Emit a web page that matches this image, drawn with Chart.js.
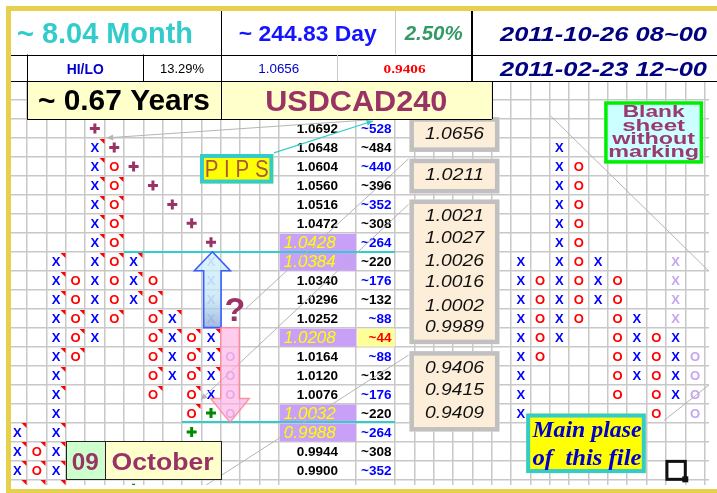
<!DOCTYPE html>
<html>
<head>
<meta charset="utf-8">
<script src="https://cdn.jsdelivr.net/npm/chart.js@4.4.1/dist/chart.umd.min.js"></script>
<style>
html,body{margin:0;padding:0;background:#fff;overflow:hidden;}
canvas{display:block;}
</style>
</head>
<body>
<canvas id="pf" width="717" height="493"></canvas>
<script>
// ================= DATA =================
const symbolName = 'USDCAD240';
const spanMonths = '~ 8.04 Month';
const spanDays = '~ 244.83 Day';
const spanYears = '~ 0.67 Years';
const boxPercent = '2.50%';
const hiLoLabel = 'HI/LO';
const hiLoPercent = '13.29%';
const hiPrice = '1.0656';
const loPrice = '0.9406';
const dateEnd = '2011-10-26 08~00';
const dateStart = '2011-02-23 12~00';
const monthNum = '09';
const monthName = 'October';

// price ladder (row 0 = top row), box size 0.0044
const priceLabels = ['1.0692','1.0648','1.0604','1.0560','1.0516','1.0472','1.0428','1.0384','1.0340','1.0296',
                     '1.0252','1.0208','1.0164','1.0120','1.0076','1.0032','0.9988','0.9944','0.9900','0.9856'];
const pipLabels = ['~528','~484','~440','~396','~352','~308','~264','~220','~176','~132',
                   '~88','~44','~88','~132','~176','~220','~264','~308','~352','~396'];
const highlightRows = [6, 7, 11, 15, 16];
const pivotRow = 11;

// point & figure columns: [column, first row, last row]
const xColumns = [[-1,16,19],[1,7,19],[3,1,11],[5,7,9],[7,10,13],[9,11,14],
                  [25,7,15],[27,1,11],[29,7,9],[31,10,13],[33,11,14]];
const oColumns = [[0,17,19],[2,8,12],[4,2,10],[6,8,14],[8,11,15],
                  [26,8,12],[28,2,10],[30,8,14],[32,11,15]];
const xProjected = [[9,7,10],[33,7,10]];
const oProjected = [[10,12,15],[34,12,15]];
// target marks: [column, row]
const targetUp = [[3,0],[4,1],[5,2],[6,3],[7,4],[8,5],[9,6]];
const targetDown = [[9,15],[8,16],[5,19]];
// cells with a comment marker: [column, row]
const commentCells = [[3,1],[3,2],[3,3],[4,3],[3,4],[4,4],[3,5],[4,5],[3,6],[4,6],
  [1,7],[3,7],[4,7],[5,7],[1,8],[5,8],[1,9],[5,9],[6,9],
  [1,10],[2,10],[4,10],[6,10],[7,10],[2,11],[6,11],[7,11],[8,11],[9,11],
  [1,12],[2,12],[6,12],[8,12],[9,12],[1,13],[6,13],[8,13],[9,13],
  [1,14],[6,14],[8,14],[8,15],[-1,16],[1,16],[-1,17],[0,17],[1,17],
  [-1,18],[0,18],[1,18],[-1,19],[0,19],[1,19]];
const noteBoxes = [['1.0656'],['1.0211'],['1.0021','1.0027','1.0026','1.0016','1.0002','0.9989'],['0.9406','0.9415','0.9409']];
const blankNote = ['Blank','sheet','without','marking'];
const mainNote = ['Main plase','of  this file'];
const pipsNote = 'P I P S';

// ================= HELPERS =================
const cellPts = cols => cols.flatMap(([c,a,b]) => Array.from({length:b-a+1},(_,i)=>({x:c+0.5,y:a+i+0.5})));
const ptList = arr => arr.map(([c,r]) => ({x:c+0.5, y:r+0.5}));
const FONT = 'Arial, "Liberation Sans", sans-serif';
const SERIF = '"Times New Roman", "Liberation Serif", serif';

function txt(ctx, s, x, y, o) {
  ctx.save();
  const size = o.size;
  ctx.font = `${o.style||'normal'} ${o.weight||'normal'} ${size}px ${o.family||FONT}`;
  ctx.fillStyle = o.color || '#000';
  ctx.textBaseline = 'alphabetic';
  const w = ctx.measureText(s).width;
  const sx = o.w ? o.w / w : 1;
  const base = (o.cap === undefined) ? 0.36 : o.cap;
  ctx.translate(x, y + base*size);
  ctx.scale(sx, 1);
  ctx.textAlign = o.align || 'center';
  ctx.fillText(s, 0, 0);
  ctx.restore();
}
function hline(ctx, x1, x2, y, color, lw) {
  ctx.save(); ctx.strokeStyle = color; ctx.lineWidth = lw;
  const yy = lw % 2 ? Math.round(y) + 0.5 : Math.round(y);
  ctx.beginPath(); ctx.moveTo(x1, yy); ctx.lineTo(x2, yy); ctx.stroke(); ctx.restore();
}
function vline(ctx, x, y1, y2, color, lw) {
  ctx.save(); ctx.strokeStyle = color; ctx.lineWidth = lw;
  const xx = lw % 2 ? Math.round(x) + 0.5 : Math.round(x);
  ctx.beginPath(); ctx.moveTo(xx, y1); ctx.lineTo(xx, y2); ctx.stroke(); ctx.restore();
}
function arrowLine(ctx, x1, y1, x2, y2, color, lw, headAtStart, headAtEnd) {
  ctx.save(); ctx.strokeStyle = color; ctx.fillStyle = color; ctx.lineWidth = lw;
  ctx.beginPath(); ctx.moveTo(x1,y1); ctx.lineTo(x2,y2); ctx.stroke();
  const head = (px,py,fx,fy) => {
    const a = Math.atan2(py-fy, px-fx), L = 7, W = 0.45;
    ctx.beginPath(); ctx.moveTo(px,py);
    ctx.lineTo(px - L*Math.cos(a-W), py - L*Math.sin(a-W));
    ctx.lineTo(px - L*Math.cos(a+W), py - L*Math.sin(a+W));
    ctx.closePath(); ctx.fill();
  };
  if (headAtStart) head(x1,y1,x2,y2);
  if (headAtEnd) head(x2,y2,x1,y1);
  ctx.restore();
}

const hiddenCols = [14, 15, 16, 18];
const xTicks = Array.from({length:36}, (_,i) => i);
const yTicks = Array.from({length:25}, (_,i) => i - 5);

const sheetPlugin = {
  id: 'sheet',
  beforeDraw(chart) {
    const ctx = chart.ctx;
    ctx.save(); ctx.fillStyle = '#fff'; ctx.fillRect(0,0,chart.width,chart.height); ctx.restore();
  },
  afterDatasetsDraw(chart) {
    const ctx = chart.ctx, ca = chart.chartArea;
    const X = v => chart.scales.x.getPixelForValue(v);
    const Y = v => chart.scales.y.getPixelForValue(v);
    ctx.save();
    ctx.beginPath(); ctx.rect(ca.left, ca.top, ca.right-ca.left, ca.bottom-ca.top); ctx.clip();

    // ---- price ladder ----
    const pL = X(13), pR = X(17), qR = X(19);
    highlightRows.forEach(r => {
      ctx.fillStyle = '#c9a0f7';
      ctx.fillRect(pL+1, Y(r)+1, pR-pL-1, Y(r+1)-Y(r)-1);
    });
    ctx.fillStyle = '#ffff99';
    ctx.fillRect(pR+1, Y(pivotRow)+1, qR-pR-1, Y(pivotRow+1)-Y(pivotRow)-1);
    priceLabels.forEach((p, r) => {
      const cy = Y(r+0.5);
      if (highlightRows.includes(r)) {
        txt(ctx, p, pL+5, cy, {size:17, style:'italic', color:'#ffff00', align:'left', w:52});
      } else {
        txt(ctx, p, (pL+pR)/2, cy, {size:13.5, weight:'bold', color:'#000'});
      }
      const pc = r === pivotRow ? '#ff0000' : (r % 2 === 0 ? '#0000ff' : '#000');
      txt(ctx, pipLabels[r], qR-3.5, cy, {size:13.5, weight:'bold', color:pc, align:'right'});
    });

    // ---- letters X / O ----
    chart.data.datasets.forEach((ds, i) => {
      if (!ds.letter) return;
      const meta = chart.getDatasetMeta(i);
      ctx.font = `bold 13px ${FONT}`;
      ctx.fillStyle = ds.letterColor;
      ctx.textAlign = 'center'; ctx.textBaseline = 'alphabetic';
      meta.data.forEach(pt => ctx.fillText(ds.letter, pt.x, pt.y + 4.8));
    });
    // comment markers
    ctx.fillStyle = '#ff0000';
    commentCells.forEach(([c,r]) => {
      const xr = Math.round(X(c+1)) - 0.5, yt = Math.round(Y(r)) + 1;
      ctx.beginPath(); ctx.moveTo(xr-5, yt); ctx.lineTo(xr, yt); ctx.lineTo(xr, yt+5); ctx.closePath(); ctx.fill();
    });

    // ---- teal level lines ----
    hline(ctx, X(5), X(19), Y(7), '#33cccc', 2);
    hline(ctx, X(8), X(19), Y(16), '#33cccc', 2);

    // ---- gray guide lines ----
    const g = '#b5b5b5';
    arrowLine(ctx, X(4.12), Y(0.99), X(19.7), Y(-0.1), g, 1, true, false);
    arrowLine(ctx, X(11.3), Y(9.99), X(19.7), Y(2.1), g, 1, false, false);
    arrowLine(ctx, X(8.97), Y(14.8), X(19.7), Y(4.5), g, 1, true, false);
    arrowLine(ctx, X(9.1), Y(19.4), X(19.7), Y(12.45), g, 1, false, false);
    arrowLine(ctx, X(27.05), Y(-0.16), X(35.3), Y(8.1), g, 1, false, false);
    arrowLine(ctx, X(32.9), Y(15.9), X(35.3), Y(13.96), g, 1, false, false);
    // pips pointer
    arrowLine(ctx, X(12.75), Y(1.78), X(17.86), Y(0.1), '#33cccc', 1.2, false, true);

    // ---- up arrow ----
    {
      const cx = X(9.57), tip = Y(7), base = Y(8.0), bot = Y(11);
      const hw = X(9.57+0.93)-cx, sw = X(9.57+0.45)-cx;
      const gr = ctx.createLinearGradient(0, tip, 0, bot);
      gr.addColorStop(0, 'rgba(205,242,252,0.72)');
      gr.addColorStop(0.6, 'rgba(190,228,245,0.72)');
      gr.addColorStop(1, 'rgba(140,170,215,0.8)');
      ctx.beginPath();
      ctx.moveTo(cx, tip); ctx.lineTo(cx+hw, base); ctx.lineTo(cx+sw, base); ctx.lineTo(cx+sw, bot);
      ctx.lineTo(cx-sw, bot); ctx.lineTo(cx-sw, base); ctx.lineTo(cx-hw, base); ctx.closePath();
      ctx.fillStyle = gr; ctx.fill();
      ctx.strokeStyle = '#3a5cff'; ctx.lineWidth = 1.6; ctx.stroke();
    }
    // ---- down arrow ----
    {
      const cx = X(10.48), top = Y(11), base = Y(14.74), tip = Y(16);
      const hw = X(10.48+1.0)-cx, sw = X(10.48+0.48)-cx;
      ctx.beginPath();
      ctx.moveTo(cx-sw, top); ctx.lineTo(cx+sw, top); ctx.lineTo(cx+sw, base); ctx.lineTo(cx+hw, base);
      ctx.lineTo(cx, tip); ctx.lineTo(cx-hw, base); ctx.lineTo(cx-sw, base); ctx.closePath();
      ctx.fillStyle = 'rgba(255,170,225,0.6)'; ctx.fill();
      ctx.strokeStyle = 'rgba(255,130,150,0.85)'; ctx.lineWidth = 1.4; ctx.stroke();
    }
    txt(ctx, '?', X(10.73), Y(9.99), {size:34, weight:'bold', color:'#993366'});

    // ---- note boxes beside the ladder ----
    const bx1 = X(19.75), bx2 = X(24.4);
    const boxY = [[-0.1,1.73],[2.09,3.92],[4.24,11.87],[12.24,16.48]];
    const textY = [[0.73],[2.88],[5.07,6.20,7.43,8.53,9.78,10.93],[13.08,14.21,15.43]];
    noteBoxes.forEach((vals, i) => {
      const y1 = Y(boxY[i][0]), y2 = Y(boxY[i][1]);
      ctx.fillStyle = '#fdeed9'; ctx.fillRect(bx1, y1, bx2-bx1, y2-y1);
      ctx.strokeStyle = '#c0c0c0'; ctx.lineWidth = 4.5;
      ctx.strokeRect(bx1+2.25, y1+2.25, bx2-bx1-4.5, y2-y1-4.5);
      vals.forEach((v, j) => txt(ctx, v, (bx1+bx2)/2, Y(textY[i][j]), {size:17, style:'italic', color:'#111', w:59}));
    });

    // ---- PIPS box ----
    {
      const x1 = X(8.93), x2 = X(12.72), y1 = Y(1.84), y2 = Y(3.4);
      ctx.fillStyle = '#ffff00'; ctx.fillRect(x1, y1, x2-x1, y2-y1);
      ctx.strokeStyle = '#33cccc'; ctx.lineWidth = 4; ctx.strokeRect(x1+2, y1+2, x2-x1-4, y2-y1-4);
      txt(ctx, pipsNote, (x1+x2)/2, (y1+y2)/2, {size:24, color:'#a8583e', w:64});
    }
    // ---- month box ----
    {
      const x1 = X(2), xm = X(4), x2 = X(10), y1 = Y(17), y2 = Y(19);
      ctx.fillStyle = '#ccffcc'; ctx.fillRect(x1, y1, xm-x1, y2-y1);
      ctx.fillStyle = '#ffffcc'; ctx.fillRect(xm, y1, x2-xm, y2-y1);
      ctx.strokeStyle = '#222'; ctx.lineWidth = 1;
      ctx.strokeRect(Math.round(x1)+0.5, Math.round(y1)+0.5, Math.round(x2-x1), Math.round(y2-y1));
      vline(ctx, xm, y1, y2, '#222', 1);
      const cy = (y1+y2)/2 + 1;
      txt(ctx, monthNum, (x1+xm)/2, cy, {size:23, weight:'bold', color:'#993366', w:27});
      txt(ctx, monthName, (xm+x2)/2, cy, {size:23, weight:'bold', color:'#993366', w:102});
    }
    // ---- main place box ----
    {
      const x1 = X(25.78), x2 = X(31.96), y1 = Y(15.53), y2 = Y(18.67);
      ctx.fillStyle = '#ffff00'; ctx.fillRect(x1, y1, x2-x1, y2-y1);
      ctx.strokeStyle = '#33cccc'; ctx.lineWidth = 4; ctx.strokeRect(x1+2, y1+2, x2-x1-4, y2-y1-4);
      const cx = (x1+x2)/2 + 1;
      txt(ctx, mainNote[0], cx, y1+23, {size:24, weight:'bold', style:'italic', family:SERIF, color:'#0000cc', w:109, cap:0});
      txt(ctx, mainNote[1], cx, y1+51, {size:24, weight:'bold', style:'italic', family:SERIF, color:'#0000cc', w:109, cap:0});
    }
    // ---- blank sheet box ----
    {
      const x1 = X(29.81), x2 = X(34.92), y1 = Y(-0.94), y2 = Y(2.35);
      ctx.fillStyle = '#ccffff'; ctx.fillRect(x1, y1, x2-x1, y2-y1);
      ctx.strokeStyle = '#00ee00'; ctx.lineWidth = 3.5; ctx.strokeRect(x1+1.75, y1+1.75, x2-x1-3.5, y2-y1-3.5);
      const cx = (x1+x2)/2;
      const bases = [16, 29.5, 43, 55.5], widths = [62, 63, 83, 91];
      blankNote.forEach((s, i) => txt(ctx, s, cx, y1+bases[i], {size:16, weight:'bold', color:'#9b3a6e', w:widths[i], cap:0}));
    }
    // ---- active cell ----
    {
      const x1 = X(33), x2 = X(34), y1 = Y(18), y2 = Y(19);
      ctx.strokeStyle = '#111'; ctx.lineWidth = 3;
      ctx.strokeRect(x1+1, y1+1, x2-x1-1, y2-y1-1);
      ctx.fillStyle = '#111'; ctx.fillRect(x2-3, y2-3, 6, 6);
    }
    ctx.restore();

    // ================= HEADER =================
    const y0 = 11, yA = 54.5, yB = 81, yC = Y(0), xl = 11, xr = chart.width;
    ctx.save();
    ctx.fillStyle = '#fff'; ctx.fillRect(xl, y0, xr-xl, yB-y0);
    ctx.fillStyle = '#ffffcc'; ctx.fillRect(X(0), yB, X(24)-X(0), yC-yB);
    hline(ctx, xl, xr, yA, '#000', 1);
    hline(ctx, xl, xr, yB, '#000', 1);
    hline(ctx, X(0), X(24), yC, '#000', 1);
    vline(ctx, X(10), y0, yC, '#000', 1);
    vline(ctx, X(19), y0, yA, '#c8c8c8', 1);
    vline(ctx, X(23), y0, yB, '#000', 2);
    vline(ctx, X(0), yA, yC, '#000', 1);
    vline(ctx, X(6), yA, yB, '#000', 1);
    vline(ctx, X(16), yA, yB, '#c8c8c8', 1);
    vline(ctx, X(24), yB, yC, '#000', 1);

    const r1 = 33, r2 = 68.5, r3 = 99.8;
    txt(ctx, spanMonths, 105, r1, {size:29, weight:'bold', color:'#33cccc', w:176});
    txt(ctx, spanDays, (X(10)+X(19))/2, r1, {size:22, weight:'bold', color:'#1414ff', w:138});
    txt(ctx, boxPercent, (X(19)+X(23))/2, r1, {size:20, weight:'bold', style:'italic', color:'#339966', w:58});
    txt(ctx, dateEnd, 603.5, r1, {size:21, weight:'bold', style:'italic', color:'#000080', w:207});
    txt(ctx, dateStart, 603.5, r2, {size:21, weight:'bold', style:'italic', color:'#000080', w:207});
    txt(ctx, hiLoLabel, (X(0)+X(6))/2, r2, {size:14, weight:'bold', color:'#0000cc', w:37});
    txt(ctx, hiLoPercent, (X(6)+X(10))/2, r2, {size:13.5, color:'#000', w:44});
    txt(ctx, hiPrice, (X(10)+X(16))/2, r2, {size:13.5, color:'#0000cc', w:41});
    txt(ctx, loPrice, (X(16)+X(23))/2, r2, {size:13.5, weight:'bold', family:SERIF, color:'#ff0000', w:42});
    txt(ctx, spanYears, (X(0)+X(10))/2, r3, {size:29, weight:'bold', color:'#000', w:172});
    txt(ctx, symbolName, (X(10)+X(24))/2, r3, {size:30, weight:'bold', color:'#993366', w:182});
    ctx.restore();
  },
  afterDraw(chart) {
    const ctx = chart.ctx;
    ctx.save();
    ctx.fillStyle = '#e6d04c';
    ctx.fillRect(6, 6, chart.width-6, 5);
    ctx.fillRect(6, 6, 5, chart.height-6);
    ctx.fillRect(6, 489, chart.width-6, 4);
    ctx.restore();
  }
};

const gridColor = '#c8c8c8';
const chart = new Chart(document.getElementById('pf'), {
  type: 'scatter',
  data: {
    datasets: [
      {label:'X', data: cellPts(xColumns), pointRadius:0, letter:'X', letterColor:'#0000ff'},
      {label:'O', data: cellPts(oColumns), pointRadius:0, letter:'O', letterColor:'#ff0000'},
      {label:'X projected', data: cellPts(xProjected), pointRadius:0, letter:'X', letterColor:'#c4a6f2'},
      {label:'O projected', data: cellPts(oProjected), pointRadius:0, letter:'O', letterColor:'#c4a6f2'},
      {label:'Target up', data: ptList(targetUp), pointStyle:'cross', pointRadius:5, pointBorderWidth:3,
       borderColor:'#993366', pointBorderColor:'#993366'},
      {label:'Target down', data: ptList(targetDown), pointStyle:'cross', pointRadius:5, pointBorderWidth:3,
       borderColor:'#008a00', pointBorderColor:'#008a00'}
    ]
  },
  options: {
    responsive: false,
    animation: false,
    events: [],
    layout: {padding: {left: 11, top: 11, right: 0, bottom: 4}},
    plugins: {legend: {display: false}, tooltip: {enabled: false}},
    scales: {
      x: {
        type: 'linear', min: -0.8325, max: 35.225,
        ticks: {display: false},
        border: {display: false},
        grid: {drawTicks: false, lineWidth: 1.5,
               color: c => (c.tick && hiddenCols.includes(c.tick.value)) ? 'rgba(0,0,0,0)' : gridColor},
        afterBuildTicks: s => { s.ticks = xTicks.map(v => ({value: v})); },
        afterFit: s => { s.height = 0; }
      },
      y: {
        type: 'linear', reverse: true, min: -5.701, max: 19.299,
        ticks: {display: false},
        border: {display: false},
        grid: {drawTicks: false, lineWidth: 1.5, color: gridColor},
        afterBuildTicks: s => { s.ticks = yTicks.map(v => ({value: v})); },
        afterFit: s => { s.width = 0; }
      }
    }
  },
  plugins: [sheetPlugin]
});
</script>
</body>
</html>
